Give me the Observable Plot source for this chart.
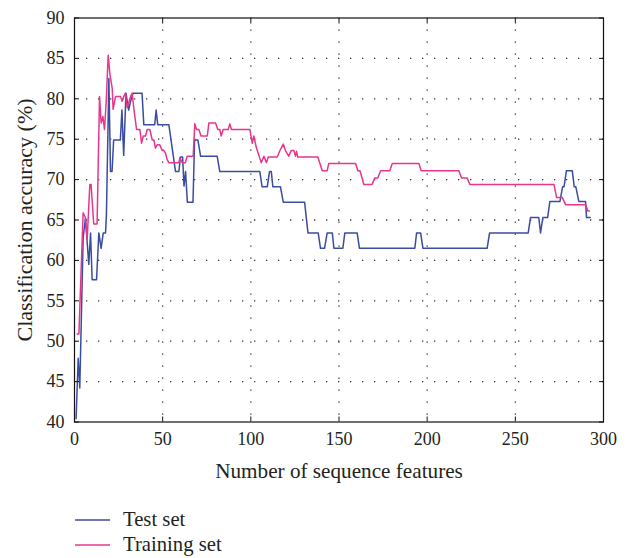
<!DOCTYPE html>
<html><head><meta charset="utf-8">
<script src="https://cdn.jsdelivr.net/npm/d3@7"></script>
<script src="https://cdn.jsdelivr.net/npm/@observablehq/plot@0.6"></script>
<style>
body{margin:0;background:#fff;font-family:"Liberation Serif",serif;}
#legend{margin-left:75px;padding-top:7px;}
.row{display:flex;align-items:center;height:25px;font-size:20.7px;color:#231f20;}
.row svg{margin-right:13px;}
</style></head><body>
<div id="chart"></div>
<div id="legend"></div>
<script>
const testN = [0.9, 2.1, 3.0, 4.9, 6.2, 8.1, 9.1, 10.0, 12.5, 13.8, 15.1, 16.3, 17.6, 18.1, 19.5, 20.4, 21.3, 22.2, 26.0, 26.9, 27.9, 29.2, 30.7, 31.7, 33.2, 38.3, 39.3, 45.5, 46.3, 47.2, 53.5, 57.3, 59.2, 60.1, 61.3, 62.1, 63.0, 64.0, 67.2, 68.1, 70.0, 71.5, 80.9, 82.4, 105.1, 106.4, 109.3, 110.6, 111.6, 112.5, 116.8, 118.4, 130.5, 132.4, 138.2, 139.5, 141.8, 143.3, 146.2, 147.1, 152.2, 153.3, 160.3, 161.6, 193.0, 194.0, 196.3, 197.6, 234.0, 235.4, 257.3, 258.6, 263.3, 264.3, 265.6, 268.3, 269.6, 275.3, 276.8, 277.6, 279.0, 282.3, 283.4, 284.3, 286.0, 289.8, 290.4, 292.5];
const testAcc = [40.4, 47.9, 44.2, 62.8, 65.2, 59.5, 63.4, 57.6, 57.6, 63.4, 61.5, 63.4, 63.4, 65.6, 82.5, 71.0, 71.0, 74.9, 74.9, 78.6, 73.0, 80.7, 78.6, 79.6, 80.7, 80.7, 76.8, 76.8, 78.6, 76.8, 76.8, 71.0, 71.0, 72.8, 72.8, 69.2, 71.0, 67.2, 67.2, 74.9, 74.9, 72.9, 72.9, 71.0, 71.0, 69.1, 69.1, 71.0, 71.0, 69.1, 69.1, 67.2, 67.2, 63.4, 63.4, 61.5, 61.5, 63.4, 63.4, 61.5, 61.5, 63.4, 63.4, 61.5, 61.5, 63.4, 63.4, 61.5, 61.5, 63.4, 63.4, 65.3, 65.3, 63.4, 65.3, 65.3, 67.3, 67.3, 69.1, 69.1, 71.1, 71.1, 69.1, 69.1, 67.3, 67.3, 65.3, 65.3];
const trainN = [1.5, 2.5, 4.9, 6.2, 7.2, 8.7, 9.4, 10.9, 12.8, 14.2, 15.1, 16.1, 17.0, 18.0, 19.1, 20.1, 21.4, 21.9, 23.3, 26.1, 27.0, 28.0, 28.9, 29.9, 31.8, 32.7, 33.7, 34.6, 35.2, 37.1, 38.0, 39.0, 40.3, 41.2, 42.7, 44.1, 45.0, 45.9, 46.9, 48.4, 49.7, 50.6, 51.6, 52.5, 53.5, 59.2, 59.7, 61.1, 62.9, 63.9, 67.3, 68.2, 69.2, 70.5, 71.8, 75.3, 76.2, 80.0, 81.3, 82.4, 83.2, 84.3, 87.2, 88.1, 89.0, 99.5, 100.8, 101.7, 103.2, 105.9, 107.4, 108.9, 109.9, 115.0, 116.5, 118.4, 119.6, 121.5, 122.9, 124.4, 125.3, 125.9, 126.6, 138.0, 140.5, 143.3, 144.2, 159.4, 160.7, 161.9, 164.1, 168.8, 170.2, 172.0, 173.6, 178.8, 180.2, 195.3, 196.6, 218.0, 219.5, 222.7, 224.2, 271.9, 273.4, 276.6, 278.5, 289.8, 291.2, 292.0];
const trainAcc = [50.9, 50.9, 65.9, 65.3, 62.6, 69.4, 69.4, 64.5, 64.5, 80.3, 77.0, 77.8, 76.2, 79.7, 85.4, 83.0, 81.3, 78.7, 80.3, 80.3, 79.7, 80.3, 80.7, 78.9, 80.3, 80.7, 78.7, 77.2, 76.2, 76.2, 74.5, 75.4, 75.4, 76.2, 76.2, 74.9, 74.9, 73.9, 74.3, 74.3, 73.6, 73.6, 73.3, 72.5, 72.1, 72.1, 72.7, 72.1, 72.1, 72.9, 72.9, 76.9, 76.2, 76.2, 75.4, 75.4, 77.0, 77.0, 76.2, 76.2, 75.4, 76.2, 76.2, 76.9, 76.2, 76.2, 74.5, 75.4, 73.9, 72.1, 72.9, 72.1, 72.8, 72.8, 73.6, 74.4, 73.6, 72.9, 73.6, 73.6, 72.9, 73.5, 72.8, 72.8, 71.1, 71.1, 72.0, 72.0, 71.1, 71.1, 69.4, 69.4, 70.2, 70.2, 71.1, 71.1, 72.0, 72.0, 71.1, 71.1, 70.2, 70.2, 69.4, 69.4, 67.8, 67.8, 66.9, 66.9, 66.1, 66.1];

const seriesNames = ["Test set", "Training set"];
const seriesColors = ["#3a4ca0", "#e8368c"];
const xTicks = [0, 50, 100, 150, 200, 250, 300];
const yTicks = [40, 45, 50, 55, 60, 65, 70, 75, 80, 85, 90];
const xLabel = "Number of sequence features";
const yLabel = "Classification accuracy (%)";

const data = [
  ...testN.map((n, i) => ({n, acc: testAcc[i], set: seriesNames[0]})),
  ...trainN.map((n, i) => ({n, acc: trainAcc[i], set: seriesNames[1]}))
];

const font = "'Liberation Serif', serif";
const chart = Plot.plot({
  width: 630, height: 500,
  marginTop: 17.5, marginLeft: 74, marginRight: 27, marginBottom: 78.5,
  style: {fontFamily: font, fontSize: "18px", color: "#231f20", background: "#fff"},
  x: {domain: [0, 300], label: null},
  y: {domain: [40, 90], label: null},
  color: {domain: seriesNames, range: seriesColors},
  marks: [
    Plot.gridX(xTicks.slice(1, -1), {stroke: "#333", strokeOpacity: 1, strokeWidth: 1.3, strokeDasharray: "1.3,10.7"}),
    Plot.gridY(yTicks.slice(1, -1), {stroke: "#333", strokeOpacity: 1, strokeWidth: 1.3, strokeDasharray: "1.3,10.7"}),
    Plot.line(data, {x: "n", y: "acc", z: "set", stroke: "set", strokeWidth: 1.5, curve: "linear"}),
    Plot.axisX(xTicks, {anchor: "bottom", tickSize: 0, tickPadding: 10, fill: "#231f20", label: null}),
    Plot.axisY(yTicks, {anchor: "left", tickSize: 0, tickPadding: 10, fill: "#231f20", label: null}),
    Plot.axisX(xTicks, {anchor: "bottom", tickSize: -5, tickFormat: () => "", label: null, stroke: "#111"}),
    Plot.axisX(xTicks, {anchor: "top", tickSize: -5, tickFormat: () => "", label: null, stroke: "#111"}),
    Plot.axisY(yTicks, {anchor: "left", tickSize: -5, tickFormat: () => "", label: null, stroke: "#111"}),
    Plot.axisY(yTicks, {anchor: "right", tickSize: -5, tickFormat: () => "", label: null, stroke: "#111"}),
    Plot.frame({stroke: "#111", strokeWidth: 1.2}),
    Plot.text([xLabel], {frameAnchor: "bottom", dy: 49, lineAnchor: "middle", textAnchor: "middle", fontSize: 21.2, fill: "#231f20", text: d => d}),
    Plot.text([yLabel], {frameAnchor: "left", dx: -49.3, rotate: -90, lineAnchor: "middle", textAnchor: "middle", fontSize: 22, fill: "#231f20", text: d => d})
  ]
});
document.getElementById("chart").appendChild(chart);

const legend = document.getElementById("legend");
seriesNames.forEach((name, i) => {
  const row = document.createElement("div");
  row.className = "row";
  row.innerHTML = `<svg width="35" height="4"><line x1="0" x2="35" y1="2" y2="2" stroke="${seriesColors[i]}" stroke-width="1.5"/></svg><span>${name}</span>`;
  legend.appendChild(row);
});
</script>
</body></html>
